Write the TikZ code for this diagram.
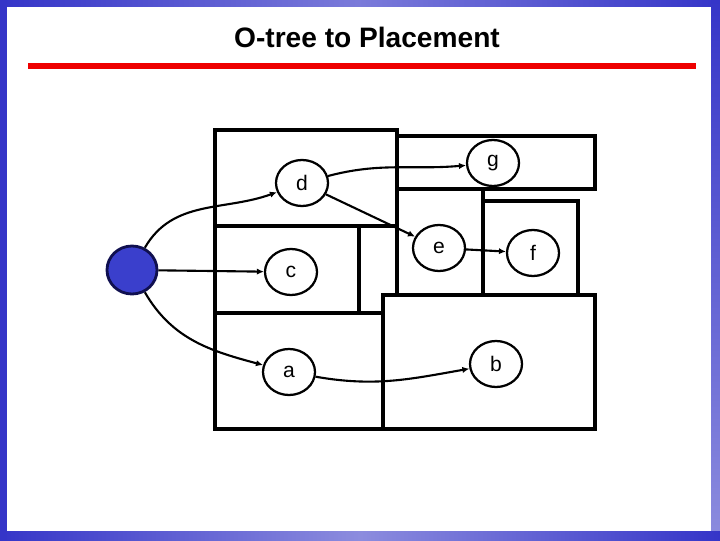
\documentclass[tikz,border=0pt]{standalone}
\usepackage{fontspec}
\setmainfont{Liberation Sans}
\usetikzlibrary{shapes.geometric,arrows.meta}
\definecolor{framedark}{HTML}{3535C8}
\definecolor{framelight}{HTML}{8C8CDE}
\definecolor{titlered}{HTML}{EE0000}
\definecolor{rootblue}{HTML}{3A3FCC}
\definecolor{rootedge}{HTML}{101050}

\tikzset{
  block/.style={draw=black, line width=2.4pt},
  tnode/.style={ellipse, draw=black, line width=1.6pt, fill=white,
    minimum width=1.3cm, minimum height=1.15cm, inner sep=0pt,
    font=\fontsize{15}{17}\selectfont},
  rootnode/.style={tnode, fill=rootblue, draw=rootedge, line width=2pt,
    minimum width=1.25cm, minimum height=1.2cm},
  link/.style={line width=1.5pt, -{Latex[length=5pt,width=4.5pt]}},
}

\begin{document}
\begin{tikzpicture}[x=0.025cm, y=0.025cm]
\useasboundingbox (0,0) rectangle (720,540);
% slide frame
\fill[white] (0,0) rectangle (720,540);
\shade[left color=framedark, right color=framedark, middle color=framelight!80!framedark] (0,533) rectangle (720,540);
\shade[top color=framedark, bottom color=framelight] (711,0) rectangle (720,540);
\shade[left color=framedark, right color=framedark, middle color=framelight] (0,0) rectangle (720,9);
\fill[framedark] (0,0) rectangle (7,540);
% title
\node[anchor=base, font=\fontsize{20}{24}\selectfont\bfseries] (title) at (367,492) {O-tree to Placement};
\fill[titlered] (28,471) rectangle (696,477);

% placement blocks
\draw[block] (215,314) rectangle (397,410);
\draw[block] (215,227) rectangle (359,314);
\draw[block] (215,111) rectangle (383,227);
\draw[block] (383,111) rectangle (595,245);
\draw[block] (397,245) rectangle (483,351);
\draw[block] (483,245) rectangle (578,339);
\draw[block] (397,351) rectangle (595,404);

% o-tree
\node[rootnode] (r) at (132,270) {};
\node[tnode] (d) at (302,357) {d};
\node[tnode] (c) at (291,268) {c};
\node[tnode] (a) at (289,168) {a};
\node[tnode] (g) at (493,377) {g};
\node[tnode] (e) at (439,292) {e};
\node[tnode] (f) at (533,287) {f};
\node[tnode] (b) at (496,176) {b};

\draw[link] (r) to[out=60,in=200] (d);
\draw[link] (r) -- (c);
\draw[link] (r) to[out=-60,in=165] (a);
\draw[link] (d) to[out=15,in=185] (g);
\draw[link] (d) -- (e);
\draw[link] (e) -- (f);
\draw[link] (a) to[out=-10,in=190] (b);
\end{tikzpicture}
\end{document}
